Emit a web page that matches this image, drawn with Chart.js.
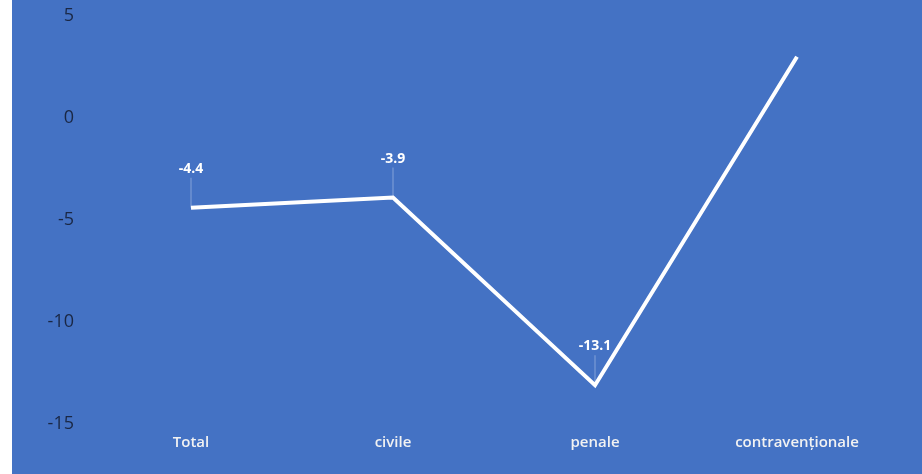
<!DOCTYPE html>
<html>
<head>
<meta charset="utf-8">
<script src="https://cdn.jsdelivr.net/npm/chart.js@4"></script>
<style>
  html, body { margin: 0; padding: 0; background: #fff; }
  #wrap { position: absolute; left: 12px; top: 0; width: 910px; height: 474px; background: #4472c4; }
</style>
</head>
<body>
<div id="wrap"><canvas id="line"></canvas></div>
<script>
var categories = ['Total', 'civile', 'penale', 'contravenționale'];
var values = [-4.4, -3.9, -13.1, 3.0];
var showLabel = [true, true, true, false];
var yTicks = [-15, -10, -5, 0, 5];

// data labels with small leader lines
var labelPlugin = {
    id: 'labels',
    afterDatasetsDraw: function (chart) {
        var c = chart.ctx;
        var meta = chart.getDatasetMeta(0);
        c.save();
        meta.data.forEach(function (pt, i) {
            if (!showLabel[i]) return;
            c.strokeStyle = 'rgba(255,255,255,0.35)';
            c.lineWidth = 1;
            c.beginPath();
            c.moveTo(pt.x, pt.y - 30);
            c.lineTo(pt.x, pt.y);
            c.stroke();
            c.fillStyle = '#ffffff';
            c.font = 'bold 14px "Open Sans", sans-serif';
            c.textAlign = 'center';
            c.textBaseline = 'middle';
            c.fillText(values[i].toFixed(1), pt.x, pt.y - 39);
        });
        c.restore();
    }
};

var ctx = document.getElementById('line').getContext('2d');
var myChart = new Chart(ctx, {
    type: 'line',
    data: {
        labels: categories,
        datasets: [{
            data: values,
            borderColor: '#ffffff',
            borderWidth: 4,
            pointRadius: 0,
            tension: 0,
            borderCapStyle: 'butt'
        }]
    },
    options: {
        responsive: true,
        maintainAspectRatio: false,
        animation: false,
        layout: { padding: { top: 16, right: 24, left: 0, bottom: 0 } },
        plugins: { legend: { display: false }, tooltip: { enabled: false } },
        scales: {
            x: {
                offset: true,
                grid: { display: false },
                border: { display: false },
                ticks: {
                    color: '#f2f2f2',
                    padding: 2,
                    font: { family: '"Open Sans", sans-serif', size: 15, weight: '600' }
                },
                afterFit: function (s) { s.height = 50; }
            },
            y: {
                min: -15,
                max: 5,
                grid: { display: false },
                border: { display: false },
                afterBuildTicks: function (s) { s.ticks = yTicks.map(function (v) { return { value: v }; }); },
                ticks: {
                    color: '#1a2744',
                    padding: 8,
                    font: { family: '"Open Sans", sans-serif', size: 18 }
                },
                afterFit: function (s) { s.width = 78; s.paddingTop = 0; }
            }
        }
    },
    plugins: [labelPlugin]
});
</script>
</body>
</html>
